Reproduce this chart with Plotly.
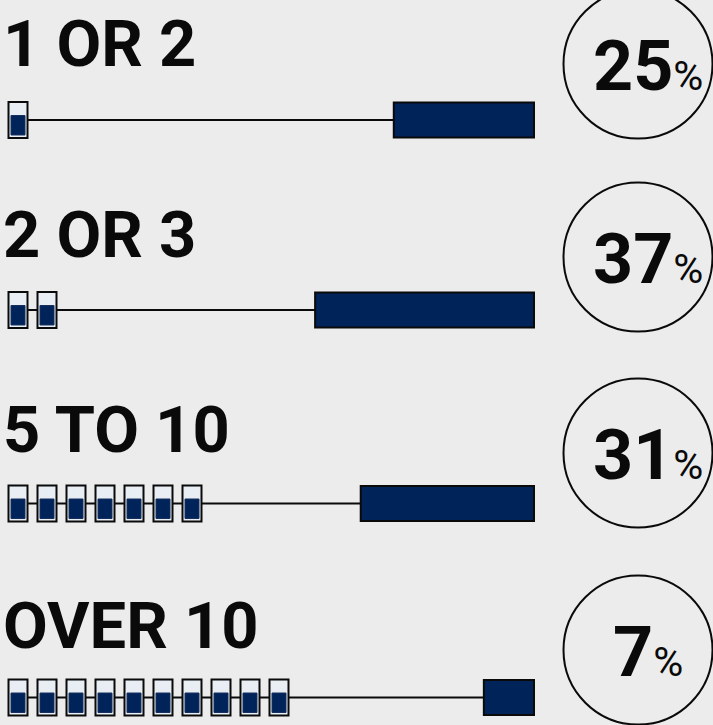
import plotly.graph_objects as go

# ---- data ----
labels = ["1 OR 2", "2 OR 3", "5 TO 10", "OVER 10"]
percents = [25, 37, 31, 7]
bar_lengths = [24.6, 38.4, 30.4, 8.8]
icon_counts = [1, 2, 7, 10]

# ---- layout constants ----
W, H = 713, 725
BG = "#ECECEC"
NAVY = "#00235A"
INK = "#0A0A0A"
ROW_Y = [120, 310, 503.5, 697.5]
TITLE_Y = [44, 235, 430, 626]
CIRCLE_Y = [64, 257, 453, 650]
CIRCLE_X, CIRCLE_R = 638, 74.5
TEXT_X = 648
PX_PER_UNIT = 5.7
BAR_END_PX = 534
AXIS_LEFT = BAR_END_PX / PX_PER_UNIT
AXIS_RIGHT = -(W - BAR_END_PX) / PX_PER_UNIT
ICON_PITCH = 29
ICON_FIRST_PX = 18

fig = go.Figure()

for val, y in zip(bar_lengths, ROW_Y):
    fig.add_trace(go.Scatter(x=[val, AXIS_LEFT - ICON_FIRST_PX / PX_PER_UNIT], y=[y, y], mode="lines",
                             line=dict(color=INK, width=2), hoverinfo="skip", showlegend=False))

fig.add_trace(go.Bar(x=bar_lengths, y=ROW_Y, orientation="h", width=35,
                     marker=dict(color=NAVY, line=dict(color=INK, width=2)), showlegend=False))

ix, iy_out, iy_base, in_y, in_base = [], [], [], [], []
for n, y in zip(icon_counts, ROW_Y):
    for i in range(n):
        ix.append(i)
        iy_base.append(y - 18)
        iy_out.append(36)
        in_base.append(y - 4.5)
        in_y.append(19.5)
fig.add_trace(go.Bar(x=ix, y=iy_out, base=iy_base, xaxis="x2", width=19 / ICON_PITCH,
                     marker=dict(color="#E8EEF4", line=dict(color=INK, width=2)), showlegend=False))
fig.add_trace(go.Bar(x=ix, y=in_y, base=in_base, xaxis="x2", width=14 / ICON_PITCH,
                     marker=dict(color=NAVY, line=dict(color="#16315F", width=1)), showlegend=False))

annotations = []
for lab, y in zip(labels, TITLE_Y):
    annotations.append(dict(text=lab, xref="paper", yref="paper", x=1 / W, y=1 - y / H,
                            xanchor="left", yanchor="middle", showarrow=False,
                            font=dict(family="Roboto", size=65, color=INK, weight="bold")))
shapes = []
for p, y in zip(percents, CIRCLE_Y):
    shapes.append(dict(type="circle", xref="paper", yref="paper",
                       x0=(CIRCLE_X - CIRCLE_R) / W, x1=(CIRCLE_X + CIRCLE_R) / W,
                       y0=1 - (y - CIRCLE_R) / H, y1=1 - (y + CIRCLE_R) / H,
                       line=dict(color=INK, width=2), fillcolor="rgba(0,0,0,0)"))
    annotations.append(dict(text=f"<b>{p}</b><span style='font-size:41px'>%</span>",
                            xref="paper", yref="paper", x=TEXT_X / W, y=1 - (y + 2) / H,
                            xanchor="center", yanchor="middle", showarrow=False,
                            font=dict(family="Roboto", size=70, color=INK)))

fig.update_layout(
    width=W, height=H, margin=dict(l=0, r=0, t=0, b=0),
    paper_bgcolor=BG, plot_bgcolor=BG, barmode="overlay", showlegend=False,
    xaxis=dict(range=[AXIS_LEFT, AXIS_RIGHT], visible=False, domain=[0, 1]),
    xaxis2=dict(range=[-ICON_FIRST_PX / ICON_PITCH, (W - ICON_FIRST_PX) / ICON_PITCH],
                overlaying="x", visible=False),
    yaxis=dict(range=[H, 0], visible=False, domain=[0, 1]),
    annotations=annotations, shapes=shapes,
)
fig.write_html("out.html", config=dict(displayModeBar=False),
               post_script="document.body.style.margin='0';document.body.style.overflow='hidden';")
